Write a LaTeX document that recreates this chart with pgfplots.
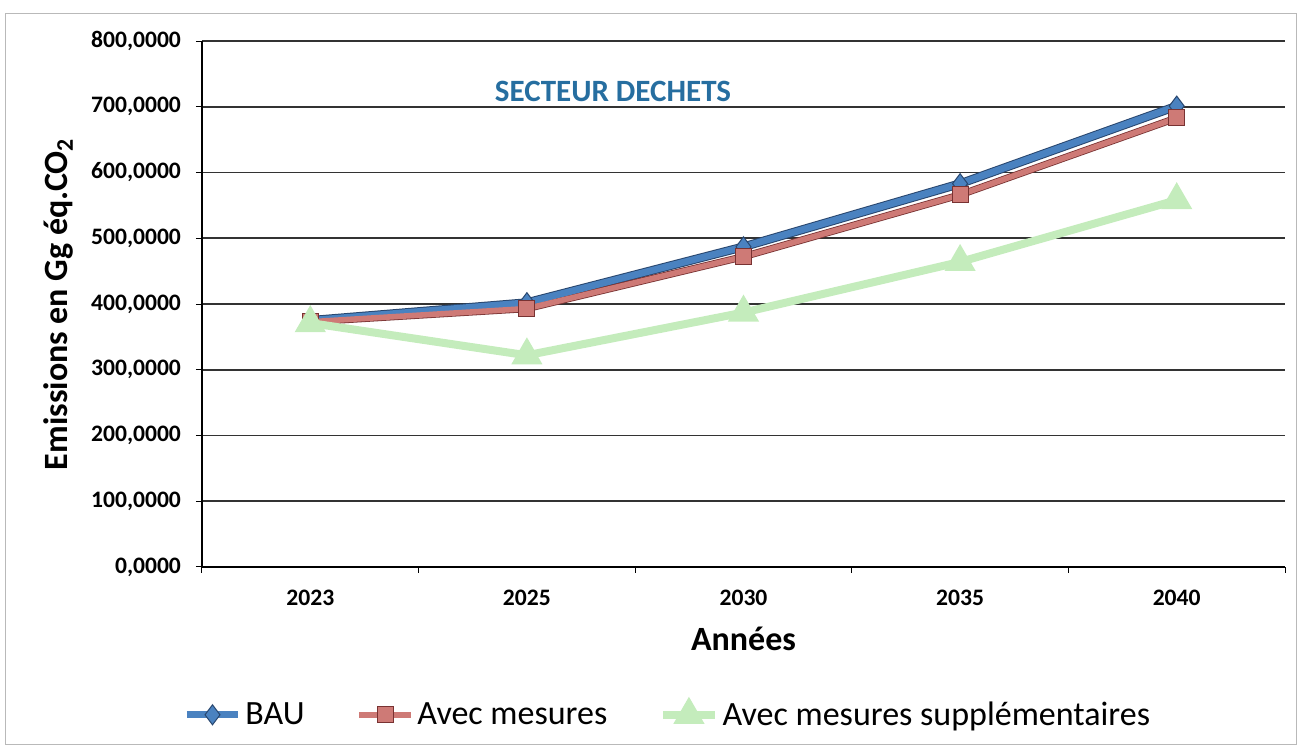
\documentclass[border=0pt]{standalone}
\usepackage{pgfplots}
\pgfplotsset{compat=1.18}
\usepackage{fontspec}
\setmainfont{Carlito}

\definecolor{bau}{RGB}{74,130,192}
\definecolor{baudark}{RGB}{40,70,110}
\definecolor{avec}{RGB}{206,122,118}
\definecolor{avecdark}{RGB}{120,50,50}
\definecolor{supp}{RGB}{196,236,188}
\definecolor{titre}{RGB}{38,110,160}

\begin{document}
\begin{tikzpicture}
\useasboundingbox (-101pt,-90pt) rectangle (549pt,283.5pt);
\draw[gray!55, line width=0.5pt] (-98pt,-89pt) rectangle (547pt,276.5pt);
\begin{axis}[
    scale only axis,
    width=541.5pt,
    height=263pt,
    xmin=0.5, xmax=5.5,
    ymin=0, ymax=800,
    xtick={1,...,5},
    xticklabels={2023,2025,2030,2035,2040},
    major x tick style={draw=none},
    minor xtick={0.5,1.5,...,5.5},
    ytick={0,100,...,800},
    axis lines*=left,
    axis line style={black, line width=0.6pt},
    tick align=outside,
    major tick length=3pt,
    minor tick length=3pt,
    tick style={black, line width=0.5pt},
    ymajorgrids,
    grid style={black!80, line width=0.8pt},
    /pgf/number format/assume math mode=true,
    yticklabel style={/pgf/number format/fixed, /pgf/number format/fixed zerofill,
        /pgf/number format/precision=4, /pgf/number format/use comma,
        /pgf/number format/1000 sep={}, xshift=-4pt},
    ticklabel style={font=\bfseries\fontsize{11.8}{13}\selectfont},
    xticklabel style={yshift=-5pt},
    xlabel={Années},
    ylabel={Emissions en Gg éq.CO\textsubscript{2}},
    label style={font=\bfseries\fontsize{17}{20}\selectfont},
    xlabel style={yshift=-4pt},
    ylabel style={yshift=2pt},
    legend style={draw=none, at={(rel axis cs:0.431,-0.281)}, anchor=center,
        legend columns=3, font=\fontsize{17}{20}\selectfont,
        /tikz/every even column/.append style={column sep=24pt}},
    legend cell align=left,
    legend image code/.code={\draw[mark repeat=2,mark phase=2] plot coordinates {(0cm,0cm) (0.45cm,0cm) (0.9cm,0cm)};},
]
% bords sombres des courbes
\addplot[baudark, line width=4.4pt, forget plot] coordinates {(1,375) (2,402) (3,487) (4,583) (5,701)};
\addplot[avecdark, line width=3.6pt, forget plot] coordinates {(1,373) (2,393) (3,472) (4,566) (5,683)};

\addplot[bau, line width=3.4pt, mark=diamond*, mark size=5pt, mark options={fill=bau, draw=baudark, line width=0.5pt}]
    coordinates {(1,375) (2,402) (3,487) (4,583) (5,701)};
\addlegendentry{BAU}
\addplot[avec, line width=2.8pt, mark=square*, mark size=4pt, mark options={fill=avec, draw=avecdark, line width=0.5pt}]
    coordinates {(1,373) (2,393) (3,472) (4,566) (5,683)};
\addlegendentry{Avec mesures}
\addplot[supp, line width=4pt, mark=triangle*, mark size=5pt, mark options={fill=supp, draw=supp}]
    coordinates {(1,371) (2,322) (3,387) (4,464) (5,558)};
\addlegendentry{Avec mesures supplémentaires}

\node[font=\bfseries\fontsize{15.5}{18}\selectfont, text=titre] at (rel axis cs:0.3795,0.905) {SECTEUR DECHETS};
\end{axis}
\end{tikzpicture}
\end{document}
